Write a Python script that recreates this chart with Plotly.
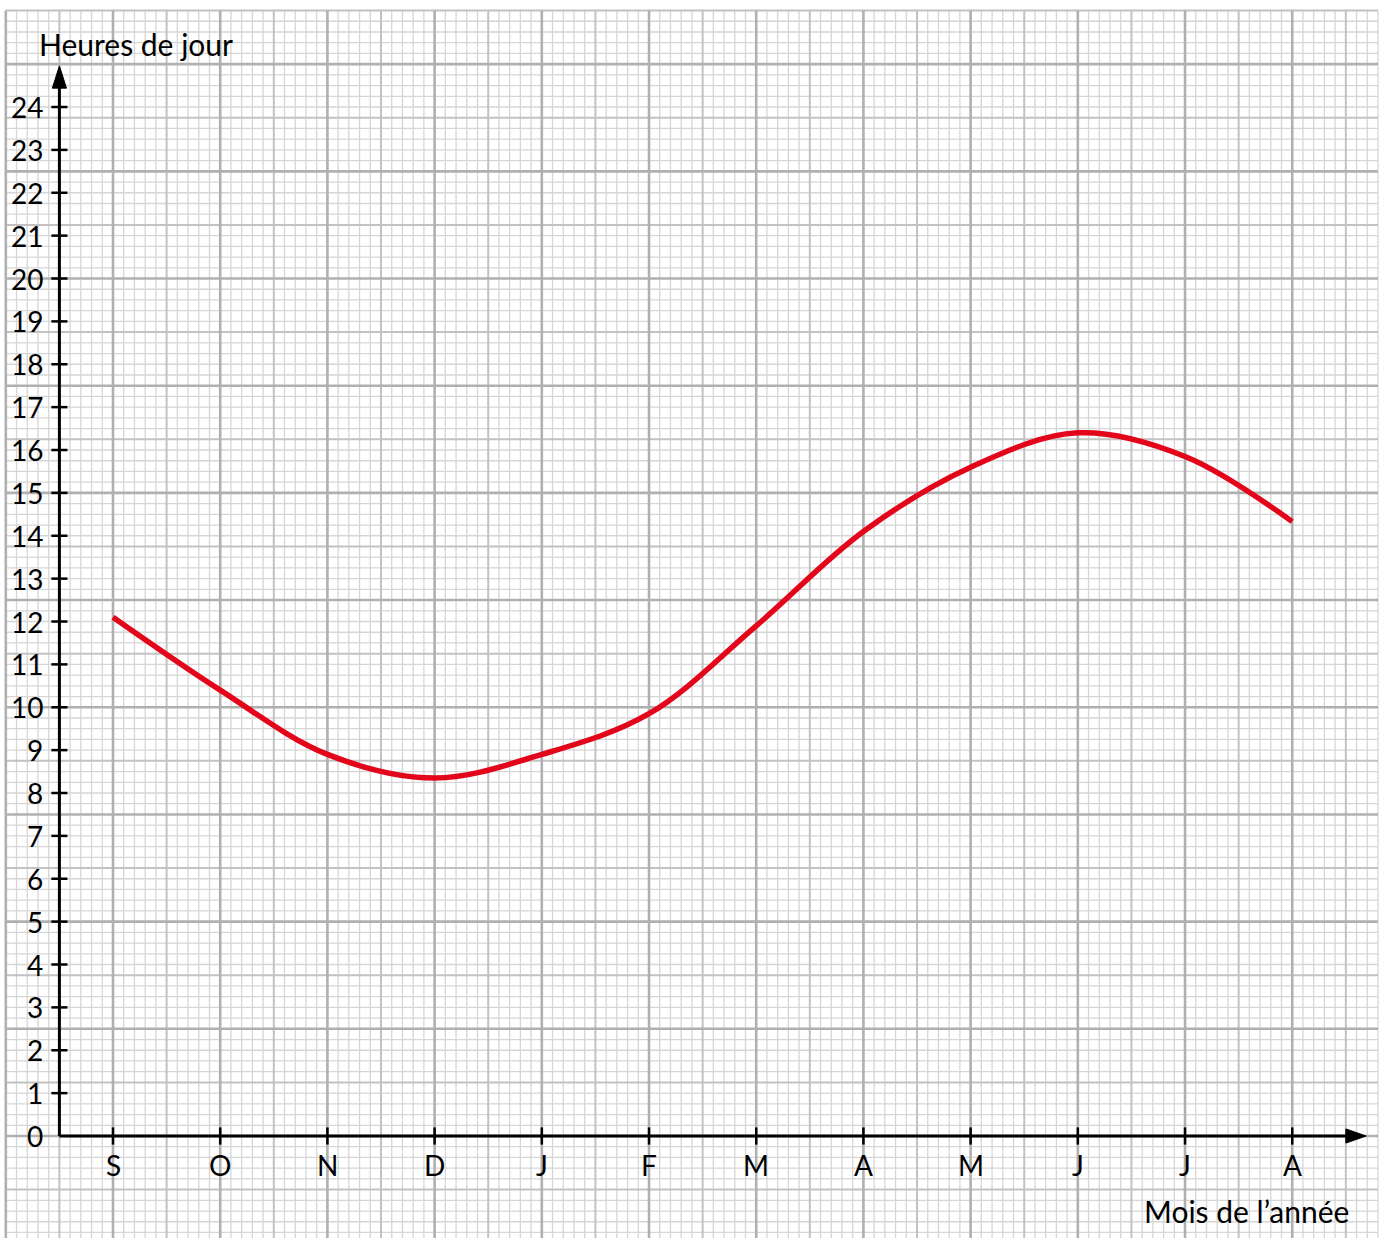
import plotly.graph_objects as go

# ---- data ----
months = ["S", "O", "N", "D", "J", "F", "M", "A", "M", "J", "J", "A"]
hours = [12.1, 10.4, 8.9, 8.35, 8.9, 9.85, 11.9, 14.1, 15.6, 16.4, 15.85, 14.33]
y_ticks = list(range(0, 25))
y_title = "Heures de jour"
x_title = "Mois de l’année"

FONT = "Lato"
RED = "#e3061a"

fig = go.Figure()

# ---- graph paper ----
X0, X1 = -1.0, 11.8
Y0, Y1 = -2.5, 26.25
levels = {"fine": ([], [], "#d6d6d6", 1.3),
          "med": ([], [], "#c2c2c2", 2.0),
          "heavy": ([], [], "#b0b0b0", 2.6)}


def kind(k):
    if k % 10 == 0:
        return "heavy"
    if k % 5 == 0:
        return "med"
    return "fine"


for k in range(-10, 119):
    xv = k / 10
    xs, ys, _, _ = levels[kind(k)]
    xs += [xv, xv, None]
    ys += [Y0, Y1, None]
for k in range(-10, 106):
    yv = k / 4
    xs, ys, _, _ = levels[kind(k)]
    xs += [X0, X1, None]
    ys += [yv, yv, None]

for name in ["fine", "med", "heavy"]:
    xs, ys, col, w = levels[name]
    fig.add_trace(go.Scatter(x=xs, y=ys, mode="lines",
                             line=dict(color=col, width=w),
                             hoverinfo="skip", showlegend=False))

# ---- axes ----
AX = -0.5
fig.add_trace(go.Scatter(x=[AX, AX], y=[0, 24.6], mode="lines",
                         line=dict(color="black", width=3),
                         hoverinfo="skip", showlegend=False))
fig.add_trace(go.Scatter(x=[AX, 11.55], y=[0, 0], mode="lines",
                         line=dict(color="black", width=3),
                         hoverinfo="skip", showlegend=False))
# arrow heads
fig.add_trace(go.Scatter(x=[AX - 0.066, AX, AX + 0.066, AX - 0.066],
                         y=[24.44, 24.96, 24.44, 24.44],
                         mode="lines", fill="toself", fillcolor="black",
                         line=dict(color="black", width=1),
                         hoverinfo="skip", showlegend=False))
fig.add_trace(go.Scatter(x=[11.50, 11.69, 11.50, 11.50],
                         y=[0.165, 0, -0.165, 0.165],
                         mode="lines", fill="toself", fillcolor="black",
                         line=dict(color="black", width=1),
                         hoverinfo="skip", showlegend=False))

# ticks
tx, ty = [], []
for v in y_ticks[1:]:
    tx += [AX - 0.075, AX + 0.075, None]
    ty += [v, v, None]
for i in range(len(months)):
    tx += [i, i, None]
    ty += [-0.2, 0.2, None]
fig.add_trace(go.Scatter(x=tx, y=ty, mode="lines",
                         line=dict(color="black", width=2.5),
                         hoverinfo="skip", showlegend=False))

# ---- curve ----
fig.add_trace(go.Scatter(x=list(range(len(months))), y=hours, mode="lines",
                         line=dict(color=RED, width=5.5, shape="spline", smoothing=1.0),
                         hoverinfo="skip", showlegend=False))

# ---- labels ----
ann = []
for v in y_ticks:
    ann.append(dict(x=-0.63, y=v, xref="x", yref="y", text=str(v),
                    showarrow=False, xanchor="right", yanchor="middle",
                    font=dict(family=FONT, size=28, color="black")))
for i, m in enumerate(months):
    ann.append(dict(x=i, y=-0.68, xref="x", yref="y", text=m,
                    showarrow=False, xanchor="center", yanchor="middle",
                    font=dict(family=FONT, size=28, color="black")))
ann.append(dict(x=-0.71, y=25.47, xref="x", yref="y", text=y_title,
                showarrow=False, xanchor="left", yanchor="middle",
                font=dict(family=FONT, size=30, color="black")))
ann.append(dict(x=11.55, y=-1.75, xref="x", yref="y", text=x_title,
                showarrow=False, xanchor="right", yanchor="middle",
                font=dict(family=FONT, size=30, color="black")))

fig.update_layout(
    width=1387, height=1238,
    margin=dict(l=0, r=0, t=0, b=0),
    paper_bgcolor="white", plot_bgcolor="white",
    annotations=ann,
    xaxis=dict(range=[-1.0541, 11.884], visible=False, fixedrange=True),
    yaxis=dict(range=[-2.379, 26.496], visible=False, fixedrange=True),
    showlegend=False,
)

fig.write_html("out.html", config={"displayModeBar": False},
               post_script="document.body.style.margin='0px';"
                           "document.body.style.overflow='hidden';")
